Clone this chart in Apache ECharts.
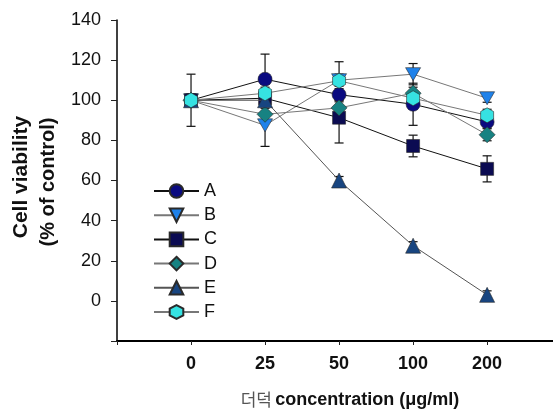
<!DOCTYPE html>
<html>
<head>
<meta charset="utf-8">
<script src="https://cdn.jsdelivr.net/npm/echarts@6/dist/echarts.min.js"></script>
<style>
  html, body { margin: 0; padding: 0; background: #fff; }
  #chart { width: 553px; height: 413px; }
</style>
</head>
<body>
<div id="chart"></div>
<script>
// Concentrations (categories on the x axis)
var doseLabels = ['0', '25', '50', '100', '200'];
var yTicks = [0, 20, 40, 60, 80, 100, 120, 140];

// Cell viability (% of control) per extract
var seriesNames = ['A', 'B', 'C', 'D', 'E', 'F'];
var valA = [100, 110.5, 102.8, 98, 89.2];
var valB = [100, 87.5, 110, 113, 101];
var valC = [100, 101, 91.3, 77.2, 65.8];
var valD = [100, 93, 96.2, 103.5, 82.8];
var valE = [100, 100, 60, 27.5, 3];
var valF = [100, 103.5, 109.7, 101, 92.5];

// Standard deviations
var errA = [13, 12.5, 3, 10.5, 3];
var errB = [3, 10.5, 3, 5.3, 2];
var errC = [3, 3, 12.6, 5.4, 6.5];
var errD = [3, 3, 3, 3, 3];
var errE = [2, 2, 2, 2, 2];
var errF = [3, 3, 9.5, 3, 3];

var values = [valA, valB, valC, valD, valE, valF];
var errors = [errA, errB, errC, errD, errE, errF];

var hexagon = 'path://M0,-10 L8.66,-5 L8.66,5 L0,10 L-8.66,5 L-8.66,-5 Z';
var downTriangle = 'path://M-10,-8 L10,-8 L0,9 Z';
var symbols = ['circle', downTriangle, 'rect', 'diamond', 'triangle', hexagon];
var symbolSizes = [14, [15, 13], 13, 16, 15, [13, 15]];
var fills = ['#0a0a80', '#1f82ea', '#0b0b52', '#178282', '#184580', '#36e2e2'];
var lineColors = ['#111111', '#777777', '#111111', '#777777', '#555555', '#777777'];

var chart = echarts.init(document.getElementById('chart'), null, { renderer: 'canvas' });

var series = [];

// Error bars, drawn under the markers
values.forEach(function (vals, s) {
  var data = vals.map(function (v, i) {
    return [i, v - errors[s][i], v + errors[s][i]];
  });
  series.push({
    type: 'custom',
    name: seriesNames[s] + '-err',
    z: 1,
    silent: true,
    data: data,
    renderItem: function (params, api) {
      var x = api.value(0);
      var lo = api.coord([x, api.value(1)]);
      var hi = api.coord([x, api.value(2)]);
      var cap = 4.5;
      var style = { stroke: '#111', lineWidth: 1.2 };
      return {
        type: 'group',
        children: [
          { type: 'line', shape: { x1: lo[0], y1: lo[1], x2: hi[0], y2: hi[1] }, style: style },
          { type: 'line', shape: { x1: lo[0] - cap, y1: lo[1], x2: lo[0] + cap, y2: lo[1] }, style: style },
          { type: 'line', shape: { x1: hi[0] - cap, y1: hi[1], x2: hi[0] + cap, y2: hi[1] }, style: style }
        ]
      };
    }
  });
});

// Viability lines with markers
values.forEach(function (vals, s) {
  series.push({
    type: 'line',
    name: seriesNames[s],
    z: 2 + s,
    data: vals.map(function (v, i) { return [i, v]; }),
    symbol: symbols[s],
    symbolSize: symbolSizes[s],
    showAllSymbol: true,
    lineStyle: { color: lineColors[s], width: 1 },
    itemStyle: { color: fills[s], borderColor: '#2a2a2a', borderWidth: 0.6 },
    emphasis: { disabled: true },
    animation: false
  });
});

chart.setOption({
  animation: false,
  backgroundColor: '#ffffff',
  grid: { left: 117, right: 0, top: 20, height: 321, containLabel: false },
  legend: {
    data: seriesNames,
    orient: 'vertical',
    left: 148,
    top: 177,
    itemWidth: 45,
    itemHeight: 17,
    itemGap: 6.2,
    textStyle: { fontFamily: 'Liberation Sans, Arial, sans-serif', fontSize: 18, color: '#111' }
  },
  xAxis: {
    type: 'value',
    min: -1,
    max: 4.89,
    interval: 1,
    splitLine: { show: false },
    axisLine: { onZero: false, lineStyle: { color: '#000', width: 2 } },
    axisTick: { show: true, length: 4, lineStyle: { color: '#222', width: 1 } },
    axisLabel: {
      margin: 14,
      fontFamily: 'Liberation Sans, Arial, sans-serif',
      fontSize: 18,
      fontWeight: 'bold',
      color: '#111',
      showMaxLabel: false,
      formatter: function (v) {
        var i = Math.round(v);
        return (i >= 0 && i < doseLabels.length) ? doseLabels[i] : '';
      }
    }
  },
  yAxis: {
    type: 'value',
    min: -20,
    max: 140,
    interval: 20,
    splitLine: { show: false },
    axisLine: { show: true, onZero: false, lineStyle: { color: '#000', width: 1.5 } },
    axisTick: { show: true, length: 6, lineStyle: { color: '#222', width: 1 } },
    axisLabel: {
      margin: 16,
      fontFamily: 'Liberation Sans, Arial, sans-serif',
      fontSize: 18,
      color: '#111',
      formatter: function (v) {
        return yTicks.indexOf(v) >= 0 ? String(v) : '';
      }
    }
  },
  graphic: [
    {
      type: 'text',
      x: 21, y: 177,
      rotation: Math.PI / 2,
      style: {
        text: 'Cell viability',
        fontFamily: 'Liberation Sans, Arial, sans-serif',
        fontSize: 21, fontWeight: 'bold', fill: '#111',
        align: 'center', verticalAlign: 'middle'
      }
    },
    {
      type: 'text',
      x: 48, y: 182,
      rotation: Math.PI / 2,
      style: {
        text: '(% of control)',
        fontFamily: 'Liberation Sans, Arial, sans-serif',
        fontSize: 20, fontWeight: 'bold', fill: '#111',
        align: 'center', verticalAlign: 'middle'
      }
    },
    {
      type: 'text',
      x: 350, y: 400,
      style: {
        text: '{k|더덕} {b|concentration (μg/ml)}',
        align: 'center', verticalAlign: 'middle',
        rich: {
          k: { fontFamily: 'Noto Sans CJK KR', fontSize: 17, fontWeight: 'normal', fill: '#555' },
          b: { fontFamily: 'Liberation Sans, Arial, sans-serif', fontSize: 18, fontWeight: 'bold', fill: '#111' }
        }
      }
    }
  ],
  series: series
});
</script>
</body>
</html>
